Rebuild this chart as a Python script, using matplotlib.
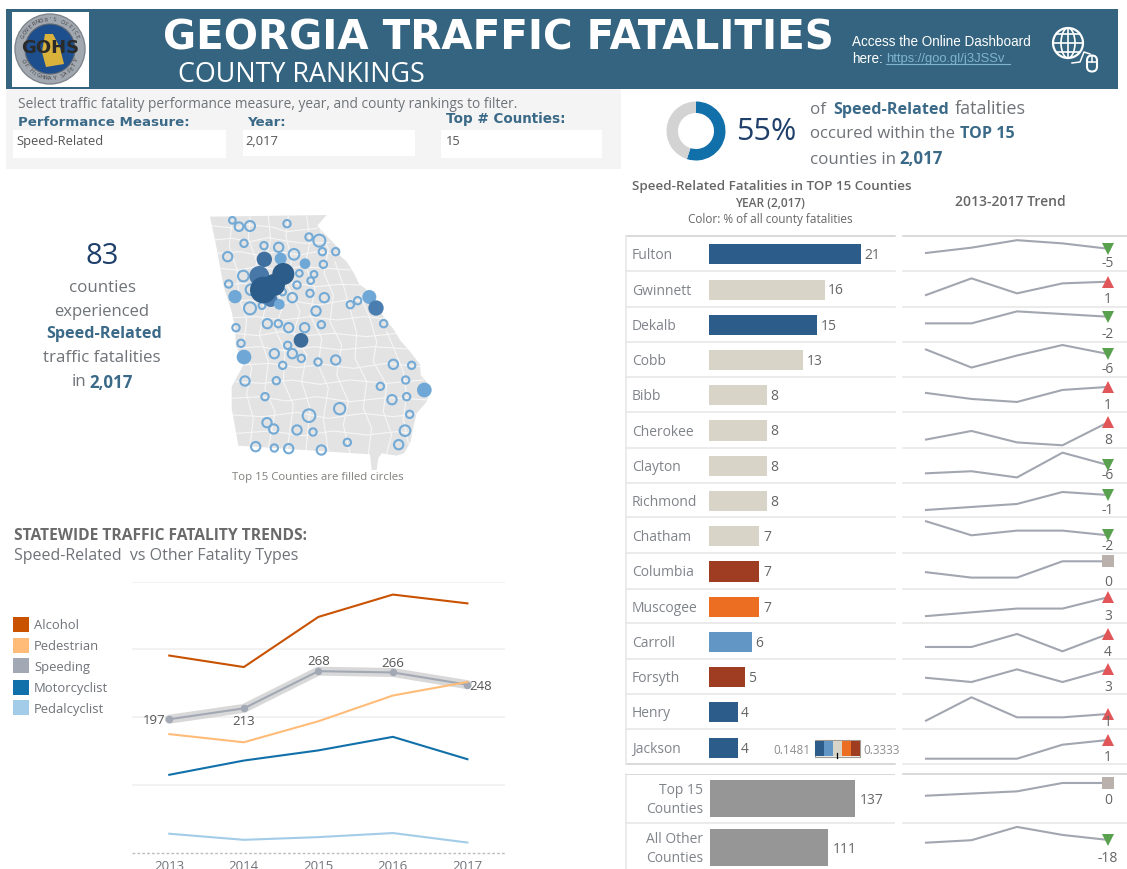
import numpy as np
import matplotlib
matplotlib.use("Agg")
import matplotlib.pyplot as plt
from matplotlib.patches import Rectangle, Circle, Ellipse, Polygon, FancyBboxPatch

W, H = 1127, 869
plt.rcParams['font.family'] = ['Open Sans', 'DejaVu Sans']

# ---------- data ----------
years = [2013, 2014, 2015, 2016, 2017]
alcohol = [291, 274, 348, 381, 368]
pedestrian = [175, 163, 194, 232, 252]
speeding = [197, 213, 268, 266, 248]
motorcyclist = [115, 136, 151, 171, 138]
pedalcyclist = [28, 19, 23, 29, 15]
legend_names = ['Alcohol', 'Pedestrian', 'Speeding', 'Motorcyclist', 'Pedalcyclist']

counties = ['Fulton', 'Gwinnett', 'Dekalb', 'Cobb', 'Bibb', 'Cherokee', 'Clayton', 'Richmond',
            'Chatham', 'Columbia', 'Muscogee', 'Carroll', 'Forsyth', 'Henry', 'Jackson']
county_vals = [21, 16, 15, 13, 8, 8, 8, 8, 7, 7, 7, 6, 5, 4, 4]
summary_names = ['Top 15\nCounties', 'All Other\nCounties']
summary_vals = [137, 111]

trend_fulton = [17, 22, 29, 26, 21]
trend_gwinnett = [8, 18, 9, 15, 16]
trend_dekalb = [10, 10, 19, 17, 15]
trend_cobb = [16, 4, 12, 19, 13]
trend_bibb = [6, 4, 3, 7, 8]
trend_cherokee = [2, 5, 1, 0, 8]
trend_clayton = [4, 5, 2, 14, 8]
trend_richmond = [3, 4, 5, 9, 8]
trend_chatham = [13, 7, 9, 9, 7]
trend_columbia = [5, 4, 4, 7, 7]
trend_muscogee = [2, 3, 4, 4, 7]
trend_carroll = [3, 3, 6, 2, 6]
trend_forsyth = [3, 2, 5, 2, 5]
trend_henry = [2, 9, 3, 3, 4]
trend_jackson = [0, 0, 0, 3, 4]
trend_top15 = [96, 103, 110, 137, 137]
trend_other = [101, 110, 158, 129, 111]
trend_rows = [trend_fulton, trend_gwinnett, trend_dekalb, trend_cobb, trend_bibb, trend_cherokee,
              trend_clayton, trend_richmond, trend_chatham, trend_columbia, trend_muscogee,
              trend_carroll, trend_forsyth, trend_henry, trend_jackson, trend_top15, trend_other]
donut_shares = [55, 45]

# map bubbles, in map units
ring_x = [97,117,150,261,327,358,132,192,236,367,407,83,282,370,298,342,130,332,86,291,153,248,330,277,373,186,150,348,451,473,202,235,266,314,364,551,108,123,263,223,277,304,248,354,407,580,635,135,229,617,541,195,620,576,419,327,629,201,221,291,339,615,442,167,223,266,364,596]
ring_y = [46,65,63,56,96,107,115,122,127,140,140,155,148,178,205,208,213,227,237,240,254,261,265,278,278,302,310,318,299,287,356,356,368,368,359,356,368,415,421,446,446,460,481,471,465,478,481,528,527,525,544,575,575,584,611,632,628,653,672,675,681,677,712,725,729,731,735,719]
ring_r = [10,13,15,11,11,18,11,11,14,11,11,14,16,11,10,10,16,10,11,11,16,10,11,14,14,10,18,14,11,11,14,11,14,14,11,11,11,11,11,14,14,11,11,11,14,14,11,14,11,11,11,11,11,14,17,19,11,14,14,14,11,16,11,14,11,14,14,14]
dot_x = [193,178,212,238,242,315,105,508,528,303,132,673,190,222,250]
dot_y = [163,213,285,298,161,176,275,276,309,406,456,555,255,240,207]
dot_r = [23,30,21,16,18,16,20,21,23,22,22,22,40,33,33]
dot_c = ['#3E6F9E','#4878A8','#4B7CAD','#6FA8D6','#6FA8D6','#6FA8D6','#6FA8D6','#6FA8D6','#4A7DB0','#3D6C9A','#6FA8D6','#6FA8D6','#2C5C8A','#2C5C8A','#2C5C8A']

# Georgia outline and county boundaries, in map units
state_x = [30,380,352,372,395,420,418,440,462,478,505,528,552,580,600,630,660,662,692,680,650,640,632,612,590,545,535,530,515,510,115,95,95,122,135,108,105,95,70,50]
state_y = [35,30,62,85,108,135,150,170,205,238,258,290,338,372,405,440,478,510,545,590,625,665,710,745,752,745,760,795,795,748,722,610,545,495,470,425,370,320,240,130]
boundary_lines = [
 [(30,62),(110,70),(135,58),(215,66),(260,80),(350,70)],
 [(40,105),(95,100),(150,110),(205,98),(260,108),(310,115),(390,112)],
 [(50,145),(120,140),(170,150),(235,140),(300,150),(350,140),(425,150)],
 [(55,190),(115,195),(170,185),(240,195),(300,185),(380,190),(450,195)],
 [(65,240),(130,235),(200,245),(270,232),(350,245),(420,238),(480,240)],
 [(85,290),(150,285),(210,300),(290,290),(355,300),(440,285),(525,290)],
 [(100,338),(170,335),(250,345),(330,335),(410,345),(490,335),(550,340)],
 [(105,385),(175,392),(240,380),(320,392),(400,385),(500,395),(590,385)],
 [(110,430),(180,425),(260,438),(345,425),(420,435),(520,425),(620,432)],
 [(125,480),(210,475),(290,488),(370,478),(460,490),(560,475),(660,485)],
 [(105,530),(190,535),(275,525),(360,538),(450,525),(560,535),(670,525)],
 [(95,580),(180,575),(260,588),(350,575),(450,590),(560,578),(688,585)],
 [(98,630),(190,635),(290,622),(385,640),(490,625),(580,635),(660,625)],
 [(108,685),(210,678),(310,692),(400,678),(500,690),(590,680),(640,685)],
 [(95,60),(88,125),(110,190),(118,280),(140,345),(130,425),(155,490),(140,570),(160,640),(150,725)],
 [(150,35),(145,100),(170,170),(160,240),(195,310),(178,390),(205,470),(195,555),(225,620),(205,730)],
 [(205,32),(212,105),(195,175),(220,235),(250,300),(225,370),(255,440),(250,530),(280,600),(262,732)],
 [(265,32),(258,95),(275,165),(262,240),(300,320),(280,385),(320,450),(305,530),(330,610),(318,735)],
 [(320,32),(330,110),(315,180),(345,250),(330,330),(365,400),(355,480),(385,550),(370,640),(385,740)],
 [(360,75),(385,130),(372,205),(400,270),(390,350),(425,420),(410,510),(445,590),(430,660),(450,745)],
 [(405,170),(430,240),(450,310),(470,385),(465,460),(500,530),(490,610),(515,670),(505,748)],
 [(480,270),(510,340),(530,410),(520,470),(560,540),(550,620),(575,690),(560,745)],
 [(560,380),(590,450),(610,500),(620,570),(610,640),(625,715)],
]

# ---------- helpers ----------
fig = plt.figure(figsize=(W / 100, H / 100), dpi=100, facecolor='white')

def px_axes(l, t, r, b, z=2):
    ax = fig.add_axes([l / W, 1 - b / H, (r - l) / W, (b - t) / H], zorder=z)
    ax.patch.set_alpha(0)
    return ax

bg = px_axes(0, 0, W, H, z=0)
bg.set_xlim(0, W); bg.set_ylim(H, 0); bg.axis('off')
fg = px_axes(0, 0, W, H, z=6)
fg.set_xlim(0, W); fg.set_ylim(H, 0); fg.axis('off')

GRAY = '#6F7378'; TEAL = '#3B6A88'; NAVY = '#1F3F6B'
def T(x, y, s, size=9.5, color=GRAY, weight='normal', ha='left', va='center', fam=None, dy=None, **kw):
    d = dict(family=fam) if fam else {}
    off = dy if dy is not None else (1.5 if fam is None else 1)
    return fg.text(x, y + off, s, fontsize=size, color=color, fontweight=weight, ha=ha, va=va, **d, **kw)

# ---------- header ----------
bg.add_patch(Rectangle((6, 9), 1112, 79.5, fc='#34647F', ec='none'))
bg.add_patch(Rectangle((12, 12), 77, 75, fc='white', ec='none'))
bg.add_patch(Circle((50, 49), 35, fc='#A2A8B0', ec='#80868E', lw=1))
bg.add_patch(Circle((50, 49), 25, fc='#1D4F8F', ec='#5E6670', lw=.8))
bg.add_patch(Polygon([(45, 34), (53, 34), (60, 48), (64, 64), (46, 67), (42, 52)], fc='#D9B23C', ec='none'))
T(50, 47, 'GOHS', size=13, color='#2A2A2A', weight='bold', ha='center', fam='DejaVu Sans')
ring = "GOVERNOR'S OFFICE"
for i, ch in enumerate(ring):
    a = np.radians(155 - i * 130 / (len(ring) - 1))
    T(50 + 29.5 * np.cos(a), 49 - 29.5 * np.sin(a), ch, size=4, color='#3A3A3A', ha='center', rotation=np.degrees(a) - 90, dy=0)
ring = "OF HIGHWAY SAFETY"
for i, ch in enumerate(ring):
    a = np.radians(205 + i * 130 / (len(ring) - 1))
    T(50 + 29.5 * np.cos(a), 49 - 29.5 * np.sin(a), ch, size=4, color='#3A3A3A', ha='center', rotation=np.degrees(a) + 90, dy=0)

T(163, 35, 'GEORGIA TRAFFIC FATALITIES', size=29.1, color='white', weight='bold', fam='DejaVu Sans', dy=3.5)
T(178, 74, 'COUNTY RANKINGS', size=19.4, color='white', dy=.5)
T(852, 41, 'Access the Online Dashboard', size=9.75, color='white', fam='Liberation Sans')
T(852, 58, 'here:', size=9.75, color='white', fam='Liberation Sans')
T(886, 58, 'https://goo.gl/j3JSSv', size=9.4, color='#7FB4CF', fam='Liberation Sans')
fg.plot([886, 1010], [64, 64], color='#7FB4CF', lw=.8)
# globe and mouse icon
fg.add_patch(Circle((1068, 43), 15, fc='none', ec='white', lw=1.6))
fg.add_patch(Ellipse((1068, 43), 14, 30, fc='none', ec='white', lw=1.2))
fg.plot([1068, 1068], [28, 58], color='white', lw=1.2)
for yy, half in ((34, 11), (43, 15), (52, 11)):
    fg.plot([1068 - half, 1068 + half], [yy, yy], color='white', lw=1.2)
fg.plot([1072, 1080, 1084, 1090], [63, 62, 52, 54], color='white', lw=1.1)
fg.add_patch(FancyBboxPatch((1087, 55.5), 10, 16, boxstyle='round,pad=0,rounding_size=5', fc='#34647F', ec='white', lw=1.5))
fg.plot([1087.5, 1096.5], [62, 62], color='white', lw=1.1)
fg.plot([1092, 1092], [55.5, 62], color='white', lw=1.1)

# ---------- filter panel ----------
bg.add_patch(Rectangle((6, 89), 615, 80, fc='#F4F4F4', ec='none'))
for (x0, x1, y1) in [(13, 226, 158), (243, 415, 156), (441, 602, 158)]:
    bg.add_patch(Rectangle((x0, 130), x1 - x0, y1 - 130, fc='white', ec='none'))
T(18, 103, 'Select traffic fatality performance measure, year, and county rankings to filter.', size=9.95)
T(18, 122, 'Performance Measure:', size=9.6, color=TEAL, weight='bold', fam='DejaVu Sans')
T(247, 122, 'Year:', size=9.6, color=TEAL, weight='bold', fam='DejaVu Sans')
T(446, 118, 'Top # Counties:', size=9.75, color=TEAL, weight='bold', fam='DejaVu Sans')
T(16, 140, 'Speed-Related', size=9.3, color='#555555')
T(245, 140, '2,017', size=9.3, color='#555555')
T(446, 140, '15', size=9.3, color='#555555')

# ---------- donut ----------
ax_d = px_axes(664, 99, 728, 163)
ax_d.pie(donut_shares, colors=['#1170AA', '#D3D3D3'], startangle=90, counterclock=False,
         radius=29.5 / 32, wedgeprops=dict(width=11.5 / 32, lw=0))
ax_d.set_xlim(-1, 1); ax_d.set_ylim(-1, 1)
T(736, 131, '55%', size=22, color=NAVY)
T(810, 108, 'of', size=12.2)
T(833, 108, 'Speed-Related', size=11.6, color=TEAL, weight='bold')
T(955, 108, 'fatalities', size=13)
T(810, 133, 'occured within the', size=12.1)
T(960, 133, 'TOP 15', size=11.6, color=TEAL, weight='bold')
T(810, 158, 'counties in', size=12.2)
T(899, 158, '2,017', size=12.2, color=TEAL, weight='bold')

# ---------- KPI text ----------
T(102, 255, '83', size=21, color=NAVY, ha='center')
T(102, 286, 'counties', size=12.2, ha='center')
T(102, 310, 'experienced', size=12, ha='center')
T(104, 332, 'Speed-Related', size=11.6, color=TEAL, weight='bold', ha='center')
T(102, 356, 'traffic fatalities', size=12.2, ha='center')
T(72, 381, 'in', size=12.2)
T(89, 381, '2,017', size=12.2, color=TEAL, weight='bold')

# ---------- map ----------
ax_m = px_axes(200, 205, 440, 485)
ax_m.set_xlim(0, 720); ax_m.set_ylim(840, 0); ax_m.axis('off')
state = Polygon(list(zip(state_x, state_y)), closed=True, fc='#E3E3E3', ec='none')
ax_m.add_patch(state)
for ln in boundary_lines:
    xs, ys = zip(*ln)
    l, = ax_m.plot(xs, ys, color='#F6F6F6', lw=.8, solid_joinstyle='round')
    l.set_clip_path(state)
to_s = lambda r: (2 * np.asarray(r) / 3 * 0.72) ** 2
ax_m.scatter(ring_x, ring_y, s=to_s(ring_r), fc='none', ec='#74AAD6', lw=1.5, zorder=3)
ax_m.scatter(dot_x, dot_y, s=to_s(dot_r), c=dot_c, lw=0, zorder=4)
T(318, 476, 'Top 15 Counties are filled circles', size=8.2, ha='center', color='#80807E')

# ---------- statewide trends ----------
T(14, 534, 'STATEWIDE TRAFFIC FATALITY TRENDS:', size=11.25, weight='bold', color='#6A6A6A')
T(14, 555, 'Speed-Related  vs Other Fatality Types', size=11.5)
ax_l = px_axes(132, 581.7, 504.7, 852.7)
ax_l.set_xlim(2012.5, 2017.5); ax_l.set_ylim(0, 400)
for s in ax_l.spines.values():
    s.set_visible(False)
ax_l.set_yticks([100, 200, 300, 400]); ax_l.set_yticklabels([])
ax_l.grid(axis='y', color='#EFEFEF', lw=1.1); ax_l.set_axisbelow(True)
ax_l.tick_params(axis='y', length=0)
ax_l.set_xticks(years); ax_l.set_xticklabels(years, fontsize=9.5, color=GRAY)
ax_l.tick_params(axis='x', length=0, pad=5.5)
ax_l.axhline(0, color='#BDBDBD', lw=1, ls=(0, (2, 1.5)), clip_on=False)
ax_l.plot(years, speeding, color='#D2D2D2', lw=6.5, alpha=.85, solid_capstyle='round', zorder=2)
ax_l.plot(years, alcohol, color='#C85200', lw=1.5, zorder=3)
ax_l.plot(years, pedestrian, color='#FFBC79', lw=1.5, zorder=4)
ax_l.plot(years, speeding, color='#A2A9B5', lw=1.5, marker='o', ms=4.4, zorder=3)
ax_l.plot(years, motorcyclist, color='#1170AA', lw=1.5, zorder=3)
ax_l.plot(years, pedalcyclist, color='#A3CCE9', lw=1.5, zorder=3)
label_off = [(-15, -1.5), (0, -13), (0, 9.5), (0, 9), (13.5, -2)]
for yr, v, off in zip(years, speeding, label_off):
    ax_l.annotate(str(v), (yr, v), xytext=off, textcoords='offset pixels', ha='center', va='center',
                  fontsize=9.5, color='#555555', zorder=6)
leg_c = ['#C85200', '#FFBC79', '#A2A9B5', '#1170AA', '#A3CCE9']
leg_y = [624.2, 645.5, 665.7, 687.3, 707.7]
for n, c, y in zip(legend_names, leg_c, leg_y):
    bg.add_patch(Rectangle((13.3, y - 7.7), 15.7, 15.4, fc=c, ec='none'))
    T(34, y, n, size=9.4)

# ---------- ranking bars ----------
T(632, 185, 'Speed-Related Fatalities in TOP 15 Counties', size=9.65, weight='semibold', color='#666666')
T(770, 202, 'YEAR (2,017)', size=8.6, ha='center', weight='semibold', color='#666666')
T(770, 218, 'Color: % of all county fatalities', size=8.45, ha='center', color='#666666')
T(1010, 200, '2013-2017 Trend', size=10, ha='center', weight='semibold', color='#666666')

beige = '#D8D4C8'; deep = '#2C5C8A'; rust = '#9E3D22'; orange = '#EB6E22'; sky = '#6296C4'
bar_colors = [deep, beige, deep, beige, beige, beige, beige, beige, beige, rust, orange, sky, rust, deep, deep]
SEP = '#E6E6E6'
ax_b = px_axes(625, 236.7, 895, 765.3)
ax_b.set_xlim(-83.7 / 7.25, 186.3 / 7.25); ax_b.set_ylim(14.5, -.5); ax_b.axis('off')
bars = ax_b.barh(range(15), county_vals, height=.57, color=bar_colors)
for a in ax_b.bar_label(bars, padding=2.5, fontsize=10, color='#666666'):
    a.xyann = (2.5, -1)
for i, n in enumerate(counties):
    ax_b.annotate(n, (0, i), xycoords=('axes fraction', 'data'), xytext=(7, -1.5), textcoords='offset pixels',
                  va='center', fontsize=10, color='#80848A')
seps = [235.7, 270.7, 306.7, 341.7, 376.7, 412.3, 447.7, 482.7, 517.3, 553.3, 589.3, 623.3, 659, 694.3, 729, 764.3]
for k, y in enumerate(seps):
    fg.plot([626, 895], [y, y], color='#CFCFCF' if k in (0, 15) else SEP, lw=1.1)
fg.plot([626, 626], [236, 764], color=SEP, lw=1.1)
# colour legend
sw = [deep, sky, beige, orange, rust]
bg.add_patch(Rectangle((814.5, 740.2), 45.5, 16.7, fc='#F0F0F0', ec='#A09A90', lw=.8))
for i, c in enumerate(sw):
    bg.add_patch(Rectangle((815 + i * 9, 741), 9, 15, fc=c, ec='none'))
fg.plot([836.7, 836.7], [753, 758], color='black', lw=.9)
T(810.7, 749, '0.1481', size=8.5, ha='right', color='#8E8E8E', dy=1)
T(863, 749, '0.3333', size=8.5, color='#8E8E8E', dy=1)

ax_s = px_axes(625, 774.3, 895, 872.3)
ax_s.set_xlim(-85 / 1.059, 185 / 1.059); ax_s.set_ylim(1.5, -.5); ax_s.axis('off')
sb = ax_s.barh(range(2), summary_vals, height=.755, color='#969696')
for a in ax_s.bar_label(sb, padding=3.5, fontsize=10, color='#666666'):
    a.xyann = (3.5, -1)
for i, n in enumerate(summary_names):
    ax_s.annotate(n, (-7 / 1.059, i), xytext=(0, -1.5), textcoords='offset pixels', ha='right', va='center',
                  fontsize=10, color='#80848A', linespacing=1.35)
for i in (-.5, .5):
    ax_s.axhline(i, color='#CFCFCF' if i == -.5 else SEP, lw=1.1)
fg.plot([626, 626], [774, 869], color=SEP, lw=1.1)

# ---------- sparklines ----------
spark_rows = [(seps[i], seps[i + 1]) for i in range(15)] + [(774.3, 823.3), (823.3, 869)]
spark_lim = [(0.4, 33.2), (1, 22.6), (-3.75, 22.5), (-2.1, 21.2), (-.44, 11.4), (-.84, 11.5), (-.55, 16.4),
             (.55, 12.1), (-.7, 14.7), (1.85, 8.47), (.1, 9.1), (.23, 8.46), (-.9, 7.44), (-.5, 9.9),
             (-1.2, 6.36), (7, 165), (6, 171)]
label_up = [7] * 15 + [23, 10.5]
for i, (vals, (t, b), lim) in enumerate(zip(trend_rows, spark_rows, spark_lim)):
    ax = px_axes(903, t, 1127, b, z=3)
    ax.set_xlim(2013 - 23 / 45.5, 2017 + 19 / 45.5); ax.set_ylim(*lim)
    ax.set_xticks([]); ax.set_yticks([])
    for sp in ax.spines.values():
        sp.set_visible(False)
    ax.spines['bottom'].set_visible(i != 16); ax.spines['bottom'].set_color(SEP); ax.spines['bottom'].set_linewidth(1.1)
    if i in (0, 15):
        ax.spines['top'].set_visible(True); ax.spines['top'].set_color('#CFCFCF'); ax.spines['top'].set_linewidth(1.1)
    ax.plot(years, vals, color='#A2A6B0', lw=1.5, clip_on=False)
    d = vals[-1] - vals[-2]
    mk, col = ('^', '#E15759') if d > 0 else (('v', '#59A14F') if d < 0 else ('s', '#BAB0AC'))
    ax.plot([years[-1]], [vals[-1]], marker=mk, ms=8.2, color=col, mew=0, clip_on=False, zorder=4)
    ax.annotate(str(d), (years[-1], 0), xycoords=('data', 'axes fraction'), xytext=(0, label_up[i]),
                textcoords='offset pixels', ha='center', va='center', fontsize=10, color='#666666', zorder=5,
                annotation_clip=False)

fig.savefig('out.png', dpi=100, facecolor='white')
